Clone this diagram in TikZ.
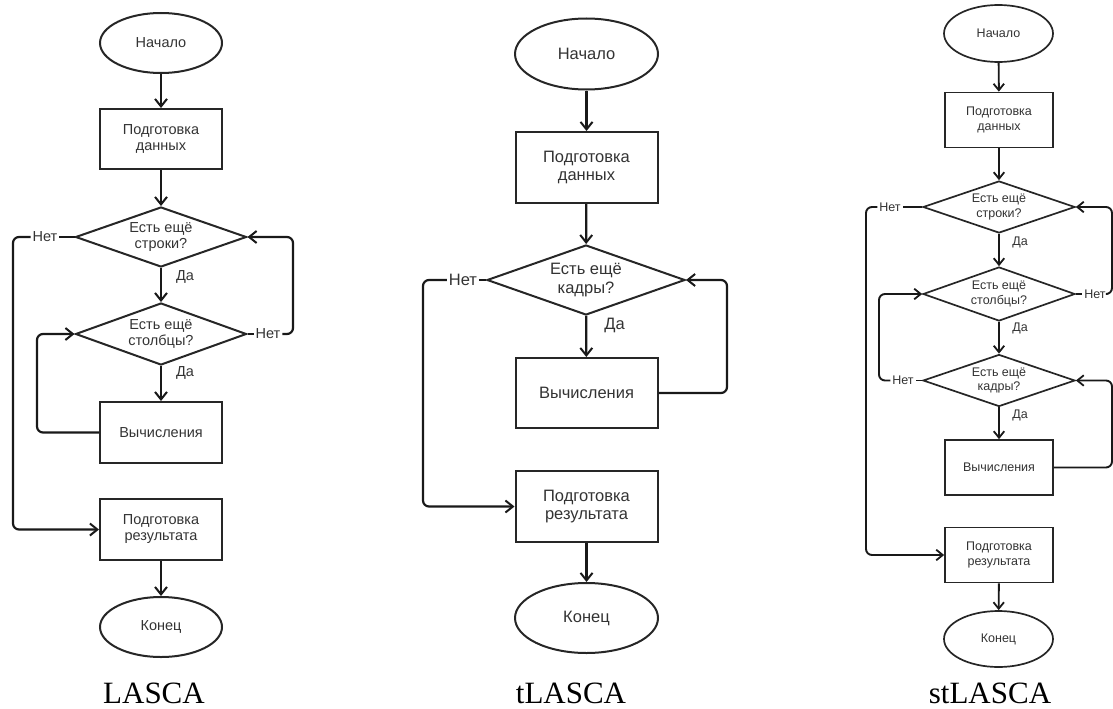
\documentclass[tikz,border=0pt]{standalone}
\usepackage{fontspec}
\setmainfont{Liberation Serif}
\setsansfont{Liberation Sans}
\usetikzlibrary{shapes.geometric,arrows.meta}
\begin{document}
\begin{tikzpicture}[x=1pt,y=-1pt,
  every node/.style={inner sep=0pt, text=black!80},
  line/.style={draw=black!90, line width=2.2pt},
  arr/.style={line, -{Straight Barb[length=7.5pt,width=12pt,line width=2pt]}},
  loopline/.style={arr, rounded corners=6pt},
  term/.style={ellipse, draw=black!85, line width=2pt, align=center},
  proc/.style={rectangle, draw=black!85, line width=2pt, align=center},
  dec/.style={diamond, draw=black!85, line width=2pt, align=center, shape aspect=2.8},
  lbl/.style={inner sep=1.8pt},
  captxt/.style={font=\rmfamily\fontsize{31}{31}\selectfont, text=black, anchor=base},
]
\useasboundingbox (0,0) rectangle (1113,709);

% ================= LASCA =================
\begin{scope}[every node/.append style={font=\sffamily\fontsize{14.5}{16}\selectfont},
  term/.append style={minimum width=122pt, minimum height=60pt},
  proc/.append style={minimum width=122pt, minimum height=60pt},
  dec/.append style={minimum width=171pt, minimum height=60pt}]
\node[term] (a0) at (161,43) {Начало};
\node[proc] (a1) at (161,139) {Подготовка\\данных};
\node[dec]  (a2) at (161,237) {Есть ещё\\строки?};
\node[dec, minimum height=62pt] (a3) at (161,334) {Есть ещё\\столбцы?};
\node[proc, minimum height=61pt] (a4) at (161,432.5) {Вычисления};
\node[proc, minimum height=61pt] (a5) at (161,529.5) {Подготовка\\результата};
\node[term] (a6) at (161,627) {Конец};
\node[lbl] (an1) at (45,237) {Нет};
\node[lbl] (an2) at (268,334) {Нет};
\node[lbl] (ay1) at (185,277) {Да};
\node[lbl] (ay2) at (185,373) {Да};
\coordinate (aL) at (13,0);
\coordinate (aR) at (293,0);
\coordinate (aC) at (37,0);
\draw[arr] (a0) -- (a1);
\draw[arr] (a1) -- (a2);
\draw[arr] (a2) -- (a3);
\draw[arr] (a3) -- (a4);
\draw[arr] (a5) -- (a6);
\draw[line] (a2.west) -- (an1.east);
\draw[loopline] (an1.west) -- (an1.west -| aL) -- (aL |- a5.west) -- (a5.west);
\draw[line] (a3.east) -- (an2.west);
\draw[loopline] (an2.east) -- (an2.east -| aR) -- (aR |- a2.east) -- (a2.east);
\draw[loopline] (a4.west) -- (a4.west -| aC) -- (aC |- a3.west) -- (a3.west);
\end{scope}
\node[captxt] (capA) at (154,703) {LASCA};

% ================= tLASCA =================
\begin{scope}[every node/.append style={font=\sffamily\fontsize{16.5}{18.5}\selectfont},
  term/.append style={minimum width=143pt, minimum height=71pt},
  proc/.append style={minimum width=142pt, minimum height=71pt},
  dec/.append style={minimum width=198pt, minimum height=70pt}]
\node[term] (b0) at (586.5,54) {Начало};
\node[proc] (b1) at (586.5,167.5) {Подготовка\\данных};
\node[dec]  (b2) at (586,280) {Есть ещё\\кадры?};
\node[proc, minimum height=70pt] (b3) at (586.5,393) {Вычисления};
\node[proc] (b4) at (586.5,506.5) {Подготовка\\результата};
\node[term, minimum height=70pt] (b5) at (586.5,618) {Конец};
\node[lbl] (bn1) at (463,280) {Нет};
\node[lbl] (by1) at (614.5,325) {Да};
\coordinate (bL) at (423,0);
\coordinate (bR) at (727,0);
\draw[arr] (b0) -- (b1);
\draw[arr] (b1) -- (b2);
\draw[arr] (b2) -- (b3);
\draw[arr] (b4) -- (b5);
\draw[line] (b2.west) -- (bn1.east);
\draw[loopline] (bn1.west) -- (bn1.west -| bL) -- (bL |- b4.west) -- (b4.west);
\draw[loopline] (b3.east) -- (b3.east -| bR) -- (bR |- b2.east) -- (b2.east);
\end{scope}
\node[captxt] (capB) at (571,703) {tLASCA};

% ================= stLASCA =================
\begin{scope}[every node/.append style={font=\sffamily\fontsize{12.5}{14.5}\selectfont},
  arr/.style={line, line width=1.9pt, -{Straight Barb[length=6.5pt,width=10.5pt,line width=1.8pt]}},
  line/.append style={line width=1.9pt},
  term/.append style={minimum width=109pt, minimum height=57pt, line width=1.7pt},
  proc/.append style={minimum width=108pt, minimum height=55pt, line width=1.7pt},
  dec/.append style={minimum width=152pt, minimum height=52pt, line width=1.7pt}]
\node[term] (c0) at (998.5,33.5) {Начало};
\node[proc] (c1) at (999,120) {Подготовка\\данных};
\node[dec]  (c2) at (999,207) {Есть ещё\\строки?};
\node[dec, minimum height=54pt] (c3) at (999,294) {Есть ещё\\столбцы?};
\node[dec]  (c4) at (999,380.5) {Есть ещё\\кадры?};
\node[proc] (c5) at (999,467.5) {Вычисления};
\node[proc] (c6) at (999,555) {Подготовка\\результата};
\node[term, minimum height=56pt] (c7) at (998.5,639) {Конец};
\node[lbl] (cn1) at (890,207) {Нет};
\node[lbl] (cn2) at (1095,294) {Нет};
\node[lbl] (cn3) at (903,380.5) {Нет};
\node[lbl] (cy1) at (1020,242) {Да};
\node[lbl] (cy2) at (1020,328) {Да};
\node[lbl] (cy3) at (1020,415) {Да};
\coordinate (cL) at (866,0);
\coordinate (cM) at (879,0);
\coordinate (cR) at (1112,0);
\draw[arr] (c0) -- (c1);
\draw[arr] (c1) -- (c2);
\draw[arr] (c2) -- (c3);
\draw[arr] (c3) -- (c4);
\draw[arr] (c4) -- (c5);
\draw[arr] (c6) -- (c7);
\draw[line] (c2.west) -- (cn1.east);
\draw[loopline] (cn1.west) -- (cn1.west -| cL) -- (cL |- c6.west) -- (c6.west);
\draw[line] (c3.east) -- (cn2.west);
\draw[loopline] (cn2.east) -- (cn2.east -| cR) -- (cR |- c2.east) -- (c2.east);
\draw[line] (c4.west) -- (cn3.east);
\draw[loopline] (cn3.west) -- (cn3.west -| cM) -- (cM |- c3.west) -- (c3.west);
\draw[loopline] (c5.east) -- (c5.east -| cR) -- (cR |- c4.east) -- (c4.east);
\end{scope}
\node[captxt] (capC) at (990,703) {stLASCA};
\end{tikzpicture}
\end{document}
